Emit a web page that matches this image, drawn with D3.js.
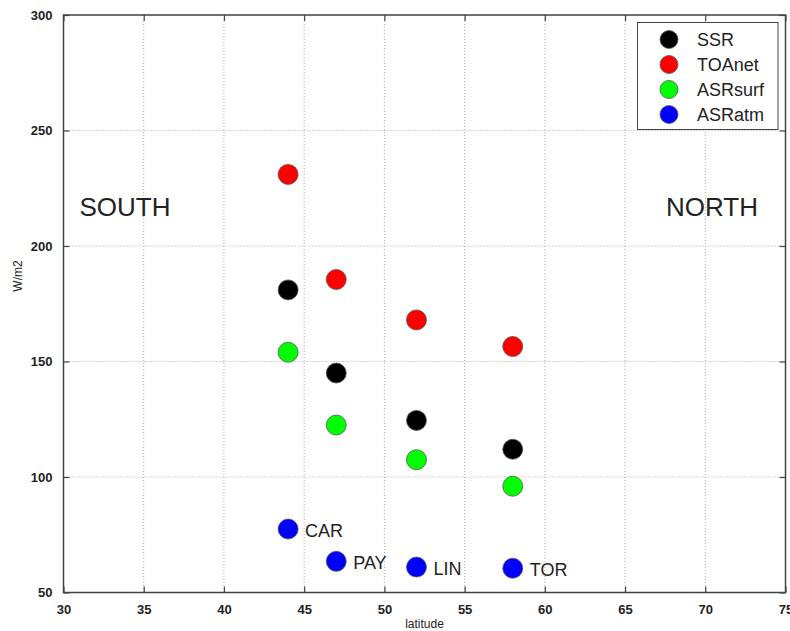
<!DOCTYPE html>
<html><head><meta charset="utf-8">
<script src="https://cdn.jsdelivr.net/npm/d3@7"></script>
<style>body{margin:0;background:#fff;} text{font-family:"Liberation Sans",Arial,sans-serif;}</style>
</head><body>
<svg id="chart" width="790" height="631"></svg>
<script>
const latitudes = [44, 47, 52, 58];
const stations = ["CAR", "PAY", "LIN", "TOR"];
const seriesNames = ["SSR", "TOAnet", "ASRsurf", "ASRatm"];
const SSR = [181, 145, 124.5, 112];
const TOAnet = [231, 185.5, 168, 156.5];
const ASRsurf = [154, 122.5, 107.5, 96];
const ASRatm = [77.5, 63.5, 61, 60.5];
const seriesColors = ["#000000", "#ff0000", "#00ff00", "#0000ff"];
const xTicks = [30, 35, 40, 45, 50, 55, 60, 65, 70, 75];
const yTicks = [50, 100, 150, 200, 250, 300];

const seriesValues = [SSR, TOAnet, ASRsurf, ASRatm];
const svg = d3.select("#chart");
const L = 63.5, R = 785.5, T = 15, B = 592.5;
const x = d3.scaleLinear().domain([30, 75]).range([L, R]);
const y = d3.scaleLinear().domain([50, 300]).range([B, T]);

// grid
const grid = svg.append("g");
xTicks.forEach(t => grid.append("line").attr("x1", x(t)).attr("x2", x(t)).attr("y1", T).attr("y2", B)
  .attr("stroke", "#aaa").attr("stroke-width", 1).attr("stroke-dasharray", "1,2"));
yTicks.forEach(t => grid.append("line").attr("x1", L).attr("x2", R).attr("y1", y(t)).attr("y2", y(t))
  .attr("stroke", "#aaa").attr("stroke-width", 1).attr("stroke-dasharray", "1,2"));

// axes
const axB = d3.axisBottom(x).tickValues(xTicks).tickSize(-6).tickPadding(12).tickFormat(d3.format("d"));
const axT = d3.axisTop(x).tickValues(xTicks).tickSize(-6).tickFormat("");
const axL = d3.axisLeft(y).tickValues(yTicks).tickSize(-6).tickPadding(11).tickFormat(d3.format("d"));
const axR = d3.axisRight(y).tickValues(yTicks).tickSize(-6).tickFormat("");
function styleAx(g){ g.select(".domain").attr("stroke","#444").attr("stroke-width",1.5);
  g.selectAll(".tick line").attr("stroke","#444").attr("stroke-width",1.2);
  g.selectAll("text").attr("font-size",13).attr("fill","#222").attr("font-weight","bold").style("font-family","'Liberation Sans',Arial,sans-serif"); }
svg.append("g").attr("transform",`translate(0,${B})`).call(axB).call(styleAx);
svg.append("g").attr("transform",`translate(0,${T})`).call(axT).call(styleAx);
svg.append("g").attr("transform",`translate(${L},0)`).call(axL).call(styleAx);
svg.append("g").attr("transform",`translate(${R},0)`).call(axR).call(styleAx);
svg.selectAll(".domain").attr("d", null);
svg.append("rect").attr("x",L).attr("y",T).attr("width",R-L).attr("height",B-T)
  .attr("fill","none").attr("stroke","#444").attr("stroke-width",1.5);

// axis labels
svg.append("text").attr("x",(L+R)/2).attr("y",628).attr("text-anchor","middle").attr("font-size",12).attr("fill","#222").text("latitude");
svg.append("text").attr("transform","translate(22,276) rotate(-90)").attr("text-anchor","middle").attr("font-size",12).attr("fill","#222").text("W/m2");

// SOUTH / NORTH
svg.append("text").attr("x",x(31)).attr("y",216).attr("font-size",26).attr("fill","#222").text("SOUTH");
svg.append("text").attr("x",x(67.55)).attr("y",216).attr("font-size",26).attr("fill","#222").text("NORTH");

// points
seriesValues.forEach((vals, si) => {
  svg.append("g").selectAll("circle").data(vals).join("circle")
    .attr("cx", (d,i) => x(latitudes[i])).attr("cy", d => y(d)).attr("r", 10)
    .attr("fill", seriesColors[si]).attr("stroke", "#555").attr("stroke-width", 0.8);
});
// station labels
svg.append("g").selectAll("text").data(ASRatm).join("text")
  .attr("x", (d,i) => x(latitudes[i]) + 17).attr("y", d => y(d) + 8)
  .attr("font-size", 18).attr("fill", "#222").text((d,i) => stations[i]);

// legend
const lg = svg.append("g");
lg.append("rect").attr("x",637.5).attr("y",22.5).attr("width",140.5).attr("height",107)
  .attr("fill","#fff").attr("stroke","#444").attr("stroke-width",1);
seriesNames.forEach((n,i) => {
  const cy = 39.5 + i*25;
  lg.append("circle").attr("cx",669).attr("cy",cy).attr("r",9).attr("fill",seriesColors[i]).attr("stroke","#555").attr("stroke-width",0.8);
  lg.append("text").attr("x",697).attr("y",cy+6.5).attr("font-size",18).attr("fill","#222").text(n);
});
</script>
</body></html>
